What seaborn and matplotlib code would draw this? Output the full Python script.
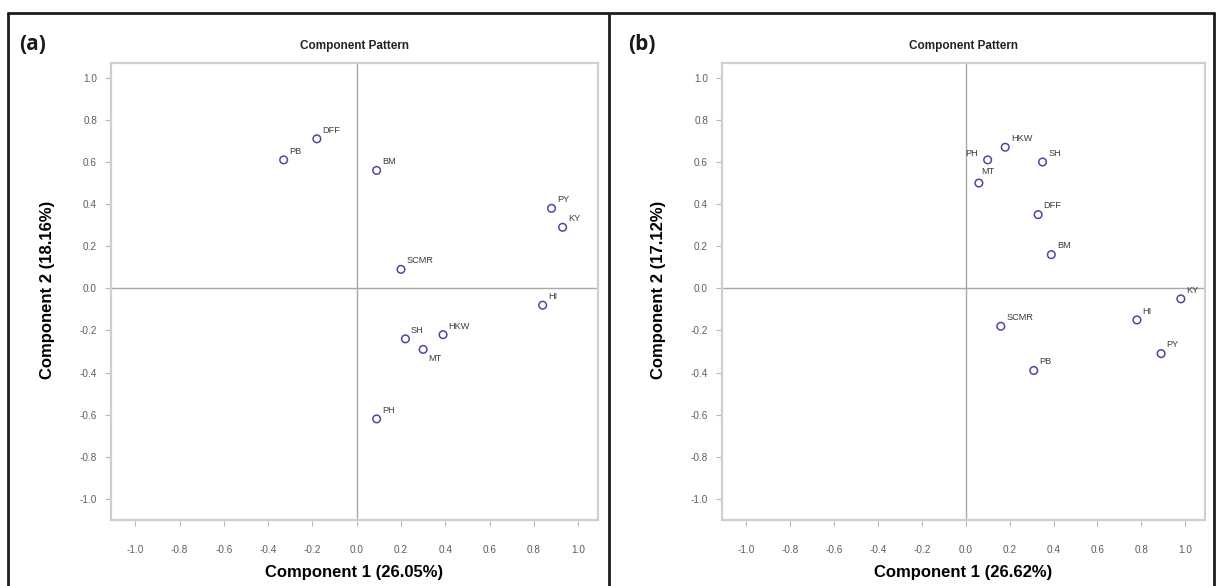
import matplotlib
matplotlib.use("Agg")
import matplotlib.pyplot as plt
import seaborn as sns
import pandas as pd
from matplotlib.lines import Line2D

# Loadings of each trait on the first two principal components
traits_a = ["PB", "DFF", "BM", "PY", "KY", "SCMR", "HI", "SH", "HKW", "MT", "PH"]
pc1_a = [-0.33, -0.18, 0.09, 0.88, 0.93, 0.20, 0.84, 0.22, 0.39, 0.30, 0.09]
pc2_a = [0.61, 0.71, 0.56, 0.38, 0.29, 0.09, -0.08, -0.24, -0.22, -0.29, -0.62]

traits_b = ["HKW", "PH", "MT", "SH", "DFF", "BM", "KY", "SCMR", "HI", "PY", "PB"]
pc1_b = [0.18, 0.10, 0.06, 0.35, 0.33, 0.39, 0.98, 0.16, 0.78, 0.89, 0.31]
pc2_b = [0.67, 0.61, 0.50, 0.60, 0.35, 0.16, -0.05, -0.18, -0.15, -0.31, -0.39]

panel_tags = ["(a)", "(b)"]
x_titles = ["Component 1 (26.05%)", "Component 1 (26.62%)"]
y_titles = ["Component 2 (18.16%)", "Component 2 (17.12%)"]
tick_values = [-1.0, -0.8, -0.6, -0.4, -0.2, 0.0, 0.2, 0.4, 0.6, 0.8, 1.0]

# label placement (offset in points) for labels not sitting up-right of their marker
label_offsets = [
    {"MT": (4, -10)},
    {"PH": (-16, 1), "MT": (2, 5)},
]

sns.set_theme(style="white")
plt.rcParams["font.family"] = ["Liberation Sans", "DejaVu Sans"]

W, H = 1216, 586
fig = plt.figure(figsize=(W / 100, H / 100), dpi=100)

axes_boxes = [(111, 63, 598, 520), (722, 63, 1205, 520)]
data_sets = [(traits_a, pc1_a, pc2_a), (traits_b, pc1_b, pc2_b)]

for i, ((x0, y0, x1, y1), (names, px, py)) in enumerate(zip(axes_boxes, data_sets)):
    ax = fig.add_axes([x0 / W, 1 - y1 / H, (x1 - x0) / W, (y1 - y0) / H])
    df = pd.DataFrame({"trait": names, "pc1": px, "pc2": py})
    ax.axhline(0, color="#a8a8a8", lw=1.0, zorder=1)
    ax.axvline(0, color="#a8a8a8", lw=1.0, zorder=1)
    sns.scatterplot(data=df, x="pc1", y="pc2", ax=ax, marker="o", s=30,
                    color="#4b4b9b", edgecolor="#4b4b9b", linewidth=1.1, zorder=3)
    ax.collections[-1].set_facecolor("none")
    for name, vx, vy in zip(names, px, py):
        off = label_offsets[i].get(name, (4, 3))
        ax.annotate(name, (vx, vy), xytext=off, textcoords="offset points",
                    fontsize=6.6, color="#3c3c3c", ha="left", va="bottom",
                    annotation_clip=False, clip_on=True, zorder=4)
    ax.set_xlim(-1.11, 1.09)
    ax.set_ylim(-1.10, 1.07)
    ax.set_xticks(tick_values)
    ax.set_yticks(tick_values)
    ax.set_xticklabels([f"{v:.1f}" for v in tick_values])
    ax.set_yticklabels([f"{v:.1f}" for v in tick_values])
    ax.tick_params(axis="both", which="both", length=4, width=0.8, color="#b8b8b8",
                   labelsize=7.2, labelcolor="#5e5e5e", direction="out",
                   bottom=True, left=True, pad=6)
    ax.tick_params(axis="x", pad=14)
    for sp in ax.spines.values():
        sp.set_color("#cfcfcf")
        sp.set_linewidth(1.6)
    ax.set_xlabel("")
    ax.set_ylabel("")
    cx = (x0 + x1) / 2
    fig.text(cx / W, 1 - 46 / H, "Component Pattern", ha="center", va="center",
             fontsize=8.5, fontweight="bold", color="#222222")
    fig.text(cx / W, 1 - 572 / H, x_titles[i], ha="center", va="center",
             fontsize=12, fontweight="bold", color="black")
    fig.text((x0 - 63) / W, 1 - 290 / H, y_titles[i], ha="center", va="center",
             rotation=90, fontsize=12, fontweight="bold", color="black")
    tag_x = 19 if i == 0 else 628
    fig.text(tag_x / W, 1 - 45 / H, panel_tags[i], ha="left", va="center",
             fontsize=15, fontweight="bold", color="#1a1a1a",
             family=["Open Sans", "DejaVu Sans"])

# surrounding panel frames
frame_kw = dict(color="#1e1e1e", lw=2.0, transform=fig.transFigure)
fig.add_artist(Line2D([8 / W, 1214 / W], [1 - 13 / H, 1 - 13 / H], **frame_kw))
for fx in (8, 609, 1214):
    fig.add_artist(Line2D([fx / W, fx / W], [0, 1 - 13 / H], **frame_kw))

fig.savefig("out.png", dpi=100, facecolor="white")
